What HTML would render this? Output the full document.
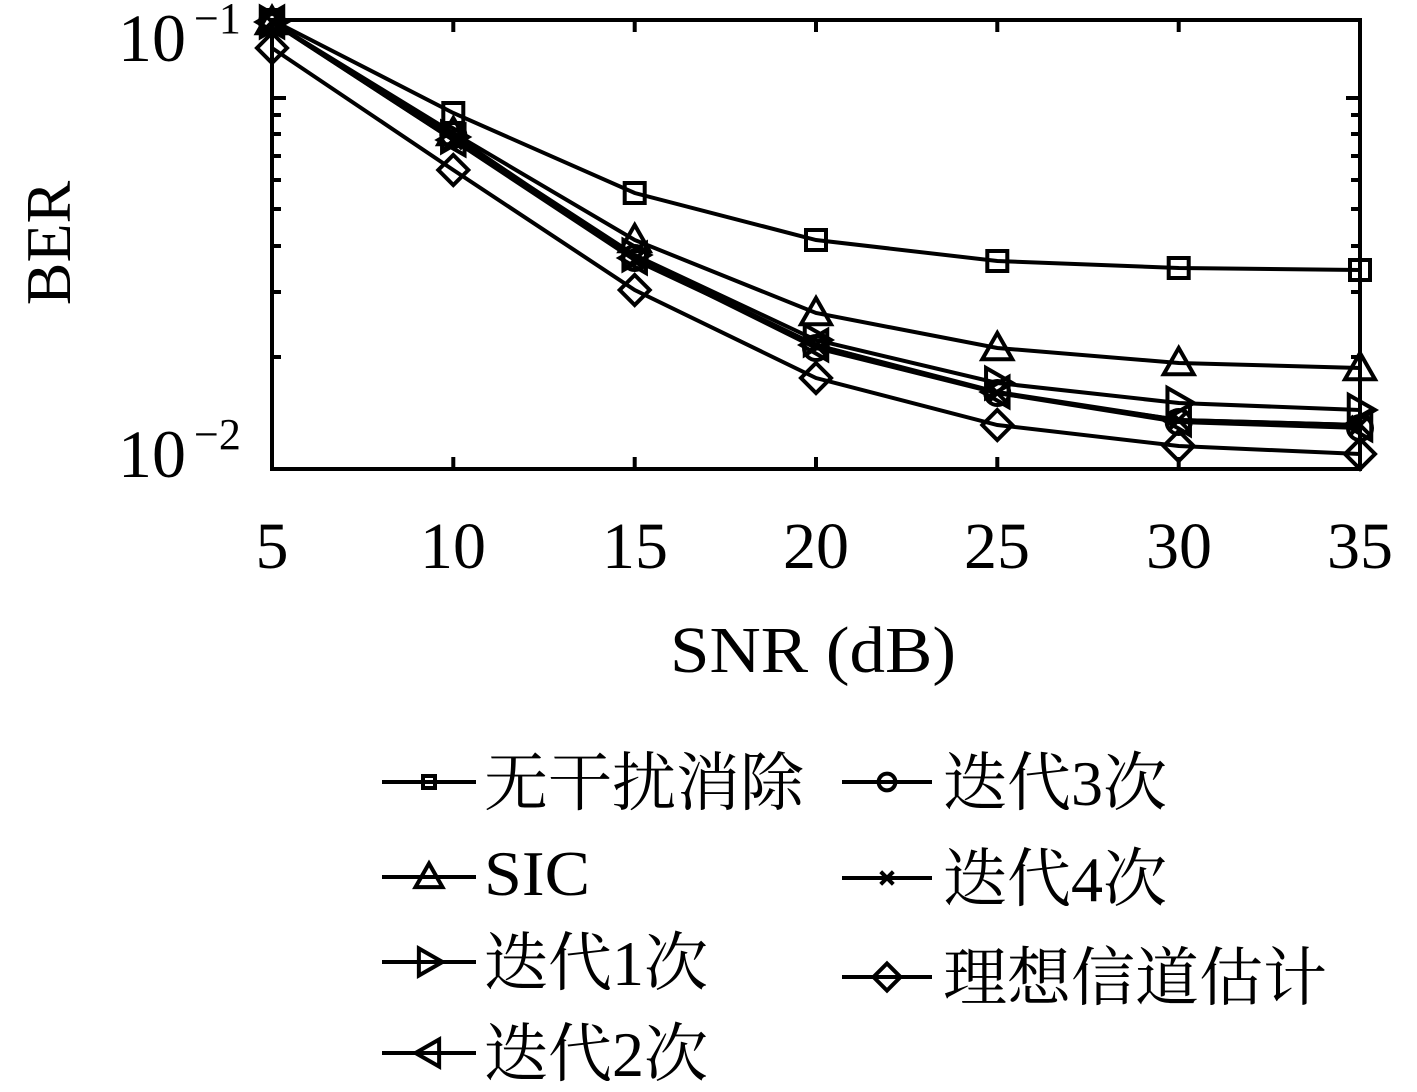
<!DOCTYPE html>
<html><head><meta charset="utf-8"><style>
body{margin:0;background:#fff;}
svg text{font-family:"Liberation Serif","Noto Serif CJK SC",serif;fill:#000;}
</style></head><body>
<svg id="s" width="1417" height="1087" xmlns="http://www.w3.org/2000/svg">
<rect width="1417" height="1087" fill="#fff"/>
<g id="ax" stroke="#000" stroke-width="4" fill="none">
<rect x="272" y="20" width="1088" height="449"/>
</g>
<g id="data" stroke="#000" stroke-width="4" fill="none" stroke-linejoin="miter"></g>
<g font-size="66">
<text x="272" y="568" text-anchor="middle">5</text>
<text x="453" y="568" text-anchor="middle">10</text>
<text x="635" y="568" text-anchor="middle">15</text>
<text x="816" y="568" text-anchor="middle">20</text>
<text x="997" y="568" text-anchor="middle">25</text>
<text x="1179" y="568" text-anchor="middle">30</text>
<text x="1360" y="568" text-anchor="middle">35</text>
<text x="813" y="672" text-anchor="middle" textLength="286" lengthAdjust="spacingAndGlyphs">SNR (dB)</text>
<text x="118" y="61" font-size="68">10</text>
<text x="194" y="33" font-size="44">−1</text>
<text x="118" y="477" font-size="68">10</text>
<text x="194" y="449" font-size="44">−2</text>
<text transform="translate(70,243) rotate(-90)" text-anchor="middle" font-size="64">BER</text>
</g>
<g font-size="64">
<text x="484" y="805">无干扰消除</text>
<text x="484" y="895" textLength="106" lengthAdjust="spacingAndGlyphs">SIC</text>
<text x="484" y="985">迭代1次</text>
<text x="484" y="1076">迭代2次</text>
<text x="943" y="805">迭代3次</text>
<text x="943" y="901">迭代4次</text>
<text x="943" y="1000">理想信道估计</text>
</g>
<g id="leg" stroke="#000" stroke-width="4" fill="none"></g>
</svg>
<script>
var NS="http://www.w3.org/2000/svg";
function el(p,t,a){var e=document.createElementNS(NS,t);for(var k in a)e.setAttribute(k,a[k]);p.appendChild(e);return e;}
var ax=document.getElementById('ax');
var xs=[272,453.3,634.7,816,997.3,1178.7,1360];
for(var i=1;i<6;i++){el(ax,'line',{x1:xs[i],y1:469,x2:xs[i],y2:457});el(ax,'line',{x1:xs[i],y1:20,x2:xs[i],y2:32});}
var mt=[98,115,134,156,180,209,246,292,357];
mt.forEach(function(y,j){var L=j==0?14:9;el(ax,'line',{x1:272,y1:y,x2:272+L,y2:y});el(ax,'line',{x1:1360,y1:y,x2:1360-L,y2:y});});
function mk(g,type,x,y,s){
 s=s||1;
 if(type=='sq'){var h=10*s;el(g,'rect',{x:x-h,y:y-h,width:2*h,height:2*h});}
 else if(type=='up'){var h=15*s;el(g,'polygon',{points:(x)+','+(y-h)+' '+(x+h)+','+(y+h*0.75)+' '+(x-h)+','+(y+h*0.75)});}
 else if(type=='right'){var h=15*s;el(g,'polygon',{points:(x+h)+','+y+' '+(x-h*0.75)+','+(y-h)+' '+(x-h*0.75)+','+(y+h)});}
 else if(type=='left'){var h=15*s;el(g,'polygon',{points:(x-h)+','+y+' '+(x+h*0.75)+','+(y-h)+' '+(x+h*0.75)+','+(y+h)});}
 else if(type=='o'){el(g,'circle',{cx:x,cy:y,r:12*s});}
 else if(type=='x'){var h=9*s;el(g,'path',{d:'M'+(x-h)+' '+(y-h)+'L'+(x+h)+' '+(y+h)+'M'+(x-h)+' '+(y+h)+'L'+(x+h)+' '+(y-h)});}
 else if(type=='d'){var h=15*s;el(g,'polygon',{points:x+','+(y-h)+' '+(x+h)+','+y+' '+x+','+(y+h)+' '+(x-h)+','+y});}
}
var S=[
 ['sq',[20,113,193,240,261,268,270]],
 ['up',[22,133,240,313,348,363,368]],
 ['right',[22,137,255,340,383,403,410]],
 ['left',[22,140,258,345,392,420,425]],
 ['o',[22,135,258,348,393,422,428]],
 ['x',[22,140,260,345,393,420,425]],
 ['d',[48,170,290,378,425,446,454]]
];
var g=document.getElementById('data');
S.forEach(function(s){var pts=s[1].map(function(y,i){return xs[i]+','+y;}).join(' ');el(g,'polyline',{points:pts});s[1].forEach(function(y,i){mk(g,s[0],xs[i],y);});});
var lg=document.getElementById('leg');
var L=[['sq',382,476,429,782,0.6],['up',382,476,429,877,0.9],['right',382,476,429,962,0.9],['left',382,476,429,1053,0.9],
 ['o',842,932,887,782,0.7],['x',842,932,887,878,0.7],['d',842,932,887,977,0.9]];
L.forEach(function(l){el(lg,'line',{x1:l[1],y1:l[4],x2:l[2],y2:l[4]});mk(lg,l[0],l[3],l[4],l[5]);});
</script>
</body></html>
